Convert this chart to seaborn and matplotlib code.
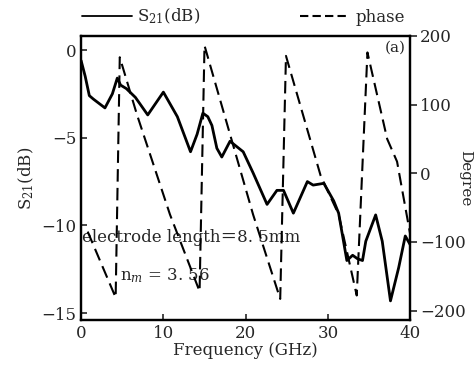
import matplotlib
matplotlib.use("Agg")
import matplotlib.pyplot as plt
import seaborn as sns
import pandas as pd
from matplotlib.lines import Line2D

# ---- data ----
s21_freq = [0.0, 0.5, 1.0, 1.5, 2.9, 3.8, 4.4, 4.8, 5.5, 6.6, 8.1, 10.0, 11.7,
            13.3, 14.1, 14.8, 15.4, 15.9, 16.5, 17.1, 18.1, 19.7, 20.9, 22.6,
            23.8, 24.6, 25.8, 27.5, 28.2, 29.5, 30.7, 31.3, 32.3, 33.0, 33.6,
            34.2, 34.6, 35.8, 36.6, 37.6, 38.6, 39.4, 40.0]
s21_db = [-0.6, -1.5, -2.6, -2.8, -3.3, -2.5, -1.6, -2.0, -2.2, -2.7, -3.7,
          -2.4, -3.8, -5.8, -4.8, -3.6, -3.8, -4.3, -5.6, -6.1, -5.2, -5.8,
          -7.0, -8.8, -8.0, -8.0, -9.3, -7.5, -7.7, -7.6, -8.6, -9.3, -12.0,
          -11.7, -11.9, -12.0, -10.9, -9.4, -10.9, -14.3, -12.4, -10.6, -11.1]

phase_freq = [0.8, 4.2, 4.7, 6.8, 10.8, 14.4, 15.0, 20.9, 24.2, 24.9, 29.1,
              31.3, 33.5, 34.8, 37.2, 38.4, 40.0]
phase_deg = [-85, -181, 169, 85, -60, -172, 186, -60, -183, 171, -3, -60,
             -178, 176, 50, 17, -89]

x_ticks = [0, 10, 20, 30, 40]
left_ticks = [0, -5, -10, -15]
right_ticks = [200, 100, 0, -100, -200]

df_s21 = pd.DataFrame({"freq": s21_freq, "s21": s21_db})
df_ph = pd.DataFrame({"freq": phase_freq, "phase": phase_deg})

sns.set_style("ticks")
plt.rcParams["font.family"] = ["DejaVu Serif", "Noto Sans CJK SC"]
plt.rcParams["mathtext.fontset"] = "dejavuserif"

fig = plt.figure(figsize=(4.77, 3.71), dpi=100)
ax = fig.add_axes([0.170, 0.137, 0.690, 0.766])
ax2 = ax.twinx()

sns.lineplot(data=df_s21, x="freq", y="s21", ax=ax, color="black",
             linewidth=2.0, sort=False, estimator=None)
sns.lineplot(data=df_ph, x="freq", y="phase", ax=ax2, color="black",
             linewidth=1.5, sort=False, estimator=None)
ax2.lines[0].set_dashes([6, 3])

ax.set_xlim(0, 40)
ax.set_ylim(-15.4, 0.8)
ax2.set_ylim(-214, 199)
ax.set_xticks(x_ticks)
ax.set_yticks(left_ticks)
ax2.set_yticks(right_ticks)
ax.tick_params(axis="both", direction="in", labelsize=12, length=4, width=1.2)
ax2.tick_params(axis="y", direction="out", labelsize=12, length=5, width=1.2,
                pad=2)

ax.set_xlabel("Frequency (GHz)", fontsize=12, labelpad=0)
ax.set_ylabel("S$_{21}$(dB)", fontsize=12, labelpad=4)
ax2.set_ylabel("Degree", fontsize=11, rotation=270, labelpad=5)

for a in (ax, ax2):
    for s in a.spines.values():
        s.set_linewidth(1.6)
        s.set_color("black")

ax.text(0.003, 0.292, "electrode length＝8. 5mm", transform=ax.transAxes,
        fontsize=12, va="center", ha="left")
ax.text(0.119, 0.155, "n$_m$ = 3. 56", transform=ax.transAxes,
        fontsize=12, va="center", ha="left")
ax.text(0.985, 0.958, "(a)", transform=ax.transAxes, fontsize=11,
        va="center", ha="right")

handles = [Line2D([], [], color="black", linewidth=1.3),
           Line2D([], [], color="black", linewidth=1.5, dashes=[4, 2])]
fig.legend(handles, ["S$_{21}$(dB)", "phase"], ncol=2, frameon=False,
           loc="center", bbox_to_anchor=(0.51, 0.955), fontsize=12,
           handlelength=3.0, columnspacing=6.0, handletextpad=0.3)

fig.savefig("out.png", dpi=100)
